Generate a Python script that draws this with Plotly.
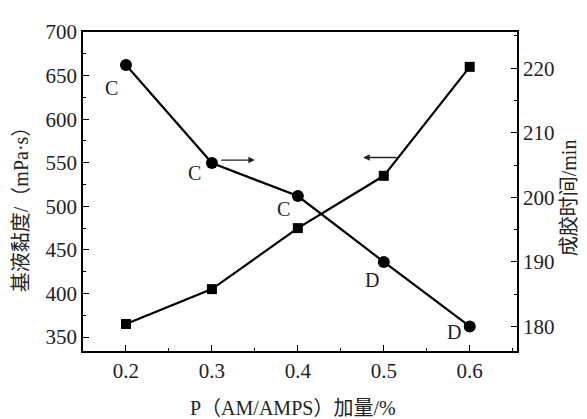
import plotly.graph_objects as go

dosage = [0.2, 0.3, 0.4, 0.5, 0.6]
viscosity = [365, 405, 475, 535, 660]
gel_time = [220.5, 205.3, 200.2, 190, 180]
point_labels = ["C", "C", "C", "D", "D"]

SERIF = '"Liberation Serif", "Times New Roman", "Noto Sans CJK SC", serif'
fig = go.Figure()
fig.add_trace(go.Scatter(x=dosage, y=viscosity, mode="lines+markers",
                         line=dict(color="black", width=2.2),
                         marker=dict(symbol="square", size=10, color="black"),
                         showlegend=False))
fig.add_trace(go.Scatter(x=dosage, y=gel_time, mode="lines+markers", yaxis="y2",
                         line=dict(color="black", width=2.2),
                         marker=dict(symbol="circle", size=12, color="black"),
                         showlegend=False))

shifts = [(-14, -23), (-17, -10), (-14, -13), (-12, -18), (-16, -6)]
for xv, yv, t, (dx, dy) in zip(dosage, gel_time, point_labels, shifts):
    fig.add_annotation(x=xv, y=yv, xref="x", yref="y2", text=t, showarrow=False,
                       xshift=dx, yshift=dy, font=dict(family=SERIF, size=20, color="#222"))

# arrows indicating which axis each curve uses
fig.add_annotation(x=0.35, y=553, xref="x", yref="y", ax=-35, ay=0, axref="pixel", ayref="pixel",
                   text="", showarrow=True, arrowhead=2, arrowsize=1, arrowwidth=1.3, arrowcolor="#222")
fig.add_annotation(x=0.476, y=556, xref="x", yref="y", ax=35, ay=0, axref="pixel", ayref="pixel",
                   text="", showarrow=True, arrowhead=2, arrowsize=1, arrowwidth=1.3, arrowcolor="#222")

titlefont = dict(family=SERIF, size=20, color="#222")
# axis titles
fig.add_annotation(x=-0.143, y=0.46, xref="paper", yref="paper", text="基液黏度/（mPa·s）",
                   textangle=-90, showarrow=False, xanchor="center", yanchor="middle", font=titlefont)
fig.add_annotation(x=1.12, y=0.479, xref="paper", yref="paper", text="成胶时间/min",
                   textangle=-90, showarrow=False, xanchor="center", yanchor="middle", font=titlefont)
fig.add_annotation(x=0.484, y=-0.18, xref="paper", yref="paper", text="P（AM/AMPS）加量/%",
                   showarrow=False, xanchor="center", yanchor="middle", font=titlefont)

tickfont = dict(family=SERIF, size=21, color="#222")

fig.update_layout(
    width=587, height=419,
    margin=dict(l=75, r=78, t=15, b=76),
    plot_bgcolor="white", paper_bgcolor="white",
    xaxis=dict(range=[0.15, 0.655], tickvals=[0.2, 0.3, 0.4, 0.5, 0.6],
               ticktext=["0.2", "0.3", "0.4", "0.5", "0.6"],
               ticks="inside", ticklen=6, tickwidth=1.3, tickcolor="black",
               minor=dict(dtick=0.05, tick0=0.15, ticks="inside", ticklen=3, tickcolor="black"),
               showline=True, linecolor="black", linewidth=1.8, mirror=True,
               showgrid=False, zeroline=False, tickfont=tickfont),
    yaxis=dict(range=[334, 700], tickvals=[350, 400, 450, 500, 550, 600, 650, 700],
               ticks="inside", ticklen=6, tickwidth=1.3, tickcolor="black",
               minor=dict(dtick=25, tick0=325, ticks="inside", ticklen=3, tickcolor="black"),
               showline=True, linecolor="black", linewidth=1.8,
               showgrid=False, zeroline=False, tickfont=tickfont),
    yaxis2=dict(range=[176.2, 225.6], overlaying="y", side="right",
                tickvals=[180, 190, 200, 210, 220],
                ticks="inside", ticklen=6, tickwidth=1.3, tickcolor="black",
                minor=dict(dtick=5, tick0=175, ticks="inside", ticklen=3, tickcolor="black"),
                showline=True, linecolor="black", linewidth=1.8,
                showgrid=False, zeroline=False, tickfont=tickfont),
)

fig.write_html("out.html")
